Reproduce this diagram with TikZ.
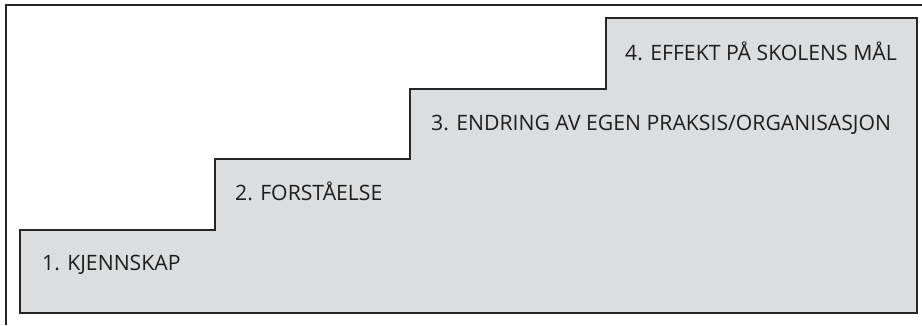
\documentclass[tikz,border=0pt]{standalone}
\usepackage{fontspec}
\setmainfont{Open Sans}
\definecolor{stairfill}{HTML}{DCDDDF}
\definecolor{linecol}{HTML}{262626}
\definecolor{textcol}{HTML}{1E1E1E}
\tikzset{
  frameline/.style={draw=linecol, line width=2.3pt},
  stairs/.style={draw=linecol, line width=1.2pt, fill=stairfill, line join=miter},
  label/.style={anchor=base west, inner sep=0pt, text=textcol, font=\fontsize{21.2}{24}\selectfont}
}
\begin{document}
\begin{tikzpicture}[x=1pt,y=-1pt]
\useasboundingbox (0,0) rectangle (922,325);
\fill[white] (0,0) rectangle (922,325);
% outer frame (top and left)
\draw[frameline] (6,325) -- (6,5) -- (922,5);
% staircase
\draw[stairs] (20,313) -- (20,230) -- (215,230) -- (215,159) -- (410,159) -- (410,89)
  -- (606,89) -- (606,18) -- (917,18) -- (917,313) -- cycle;
\node[label] (s1) at (42,270.5) {1. KJENNSKAP};
\node[label] (s2) at (235,200) {2. FORSTÅELSE};
\node[label] (s3) at (431,130.5) {3. ENDRING AV EGEN PRAKSIS/ORGANISASJON};
\node[label] (s4) at (625,60.5) {4. EFFEKT PÅ SKOLENS MÅL};
\end{tikzpicture}
\end{document}
